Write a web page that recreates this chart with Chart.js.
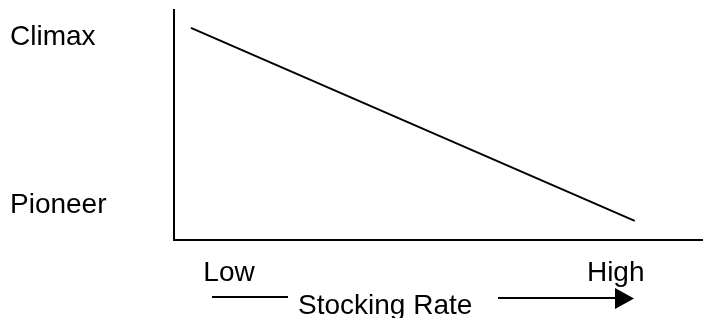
<!DOCTYPE html>
<html>
<head>
<meta charset="utf-8">
<script src="https://cdn.jsdelivr.net/npm/chart.js@4/dist/chart.umd.min.js"></script>
<style>
  html, body { margin: 0; padding: 0; background: #fff; }
  #wrap { width: 703px; height: 318px; position: relative; }
</style>
</head>
<body>
<div id="wrap"><canvas id="c"></canvas></div>
<script>
// Data
const stockingRate = [3.2, 87.1];        // x positions (0-100 scale)
const successionStage = [92.2, 8.3];     // y values (0-100 scale)
const yTickValues = [15.2, 88.2];
const yTickLabels = ['Pioneer', 'Climax'];
const xTickValues = [10.4, 83.5];
const xTickLabels = ['Low', 'High'];
const xAxisTitle = 'Stocking Rate';

const FONT = "'Liberation Sans', Arial, sans-serif";

const arrowPlugin = {
  id: 'arrowTitle',
  afterDraw(chart) {
    const ctx = chart.ctx;
    ctx.save();
    ctx.fillStyle = '#000';
    ctx.strokeStyle = '#000';
    ctx.lineWidth = 2;
    ctx.font = '28px ' + FONT;
    ctx.textAlign = 'left';
    ctx.textBaseline = 'alphabetic';
    ctx.fillText(xAxisTitle, 298, 314);
    // left line
    ctx.beginPath();
    ctx.moveTo(212, 297);
    ctx.lineTo(288, 297);
    ctx.stroke();
    // right line with arrow
    ctx.beginPath();
    ctx.moveTo(498, 298);
    ctx.lineTo(616, 298);
    ctx.stroke();
    ctx.beginPath();
    ctx.moveTo(615, 288);
    ctx.lineTo(634, 298.5);
    ctx.lineTo(615, 309);
    ctx.closePath();
    ctx.fill();
    ctx.restore();
  }
};

new Chart(document.getElementById('c'), {
  type: 'line',
  data: {
    datasets: [{
      data: stockingRate.map((x, i) => ({ x: x, y: successionStage[i] })),
      borderColor: '#000',
      borderWidth: 2,
      pointRadius: 0,
      fill: false,
      tension: 0
    }]
  },
  options: {
    responsive: true,
    maintainAspectRatio: false,
    animation: false,
    devicePixelRatio: 1,
    layout: { padding: { top: 10, left: 10, right: 0, bottom: 0 } },
    plugins: { legend: { display: false }, tooltip: { enabled: false } },
    scales: {
      x: {
        type: 'linear',
        min: 0, max: 100,
        grid: { display: false, drawTicks: false },
        border: { display: true, color: '#000', width: 2 },
        afterBuildTicks(scale) { scale.ticks = xTickValues.map(v => ({ value: v })); },
        afterFit(scale) { scale.height = 78; scale.paddingLeft = 0; scale.paddingRight = 0; },
        ticks: {
          color: '#000',
          padding: 16,
          maxRotation: 0,
          autoSkip: false,
          font: { family: FONT, size: 28 },
          callback: (v) => xTickLabels[xTickValues.indexOf(v)]
        }
      },
      y: {
        type: 'linear',
        min: 0, max: 100,
        grid: { display: false, drawTicks: false },
        border: { display: true, color: '#000', width: 2 },
        afterBuildTicks(scale) { scale.ticks = yTickValues.map(v => ({ value: v })); },
        afterFit(scale) { scale.width = 164; scale.paddingTop = 0; scale.paddingBottom = 0; },
        ticks: {
          color: '#000',
          crossAlign: 'far',
          autoSkip: false,
          font: { family: FONT, size: 28 },
          callback: (v) => yTickLabels[yTickValues.indexOf(v)]
        }
      }
    }
  },
  plugins: [arrowPlugin]
});
</script>
</body>
</html>
